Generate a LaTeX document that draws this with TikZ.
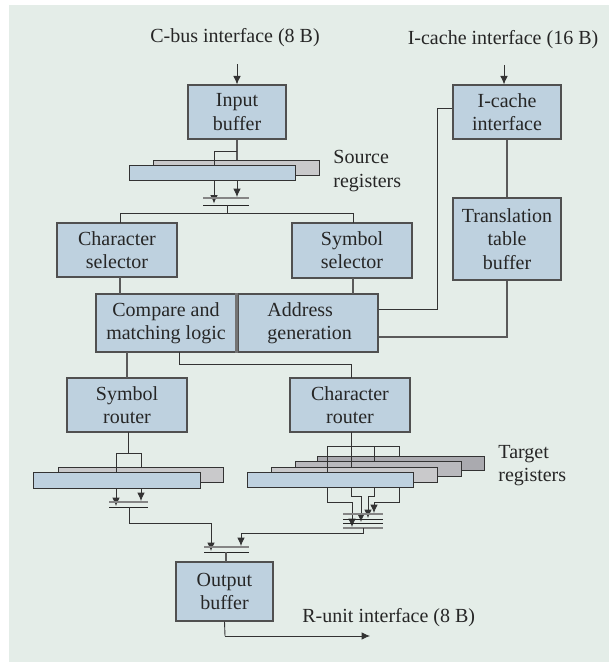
\documentclass[tikz,border=0pt]{standalone}
\usepackage{fontspec}
\setmainfont{Liberation Serif}
\newfontfamily\tms{Liberation Serif}
\usetikzlibrary{arrows.meta}
\definecolor{bgc}{HTML}{E4EDE8}
\definecolor{boxfill}{HTML}{BED1DF}
\definecolor{boxline}{HTML}{505050}
\definecolor{wirec}{HTML}{333333}
\definecolor{wireg}{HTML}{5A5A5A}
\definecolor{regA}{HTML}{C9C9CB}
\definecolor{regB}{HTML}{B9B9BD}
\definecolor{regC}{HTML}{AAAAAF}
\definecolor{barg}{HTML}{858585}
\begin{document}
\begin{tikzpicture}[x=0.5pt,y=-0.5pt,
 blk/.style={draw=boxline, fill=boxfill, line width=0.6pt, align=center, inner sep=0pt, font=\tms\fontsize{10}{11.6}\selectfont, text=black!85},
 reg/.style={draw=wirec, line width=0.5pt, inner sep=0pt},
 wire/.style={draw=wirec, line width=0.45pt},
 gwire/.style={draw=wireg, line width=0.55pt},
 arr/.style={wire, -{Latex[length=4.2pt,width=3.8pt]}},
 lbl/.style={inner sep=0pt, font=\tms\fontsize{10}{11.6}\selectfont, align=left, text=black!85},
 barK/.style={draw=black!85, line width=0.45pt},
 barG/.style={draw=barg, line width=0.65pt}]

\fill[bgc] (9,5) rectangle (609,662);
\useasboundingbox (0,0) rectangle (609,662);

% labels
\node[lbl] (cbus) at (235,38) {C-bus interface (8 B)};
\node[lbl] (icbus) at (503,40) {I-cache interface (16 B)};
\node[lbl, anchor=west] (srclbl) at (333,171) {Source\\registers};
\node[lbl, anchor=west] (tgtlbl) at (498,466) {Target\\registers};
\node[lbl, anchor=west] (runit) at (302,618) {R-unit interface (8 B)};

% boxes
\node[blk, minimum width=49pt, minimum height=27pt] (inbuf) at (237,112) {Input\\buffer};
\node[blk, minimum width=54pt, minimum height=27pt] (icache) at (507,112) {I-cache\\interface};
\node[blk, minimum width=54pt, minimum height=41pt] (transl) at (507,239) {Translation\\table\\buffer};
\node[blk, minimum width=60pt, minimum height=27pt] (charsel) at (117,250) {Character\\selector};
\node[blk, minimum width=60pt, minimum height=27.5pt] (symsel) at (352,250.5) {Symbol\\selector};
\node[blk, minimum width=70pt, minimum height=29pt] (compare) at (166,323) {Compare and\\matching logic};
\node[blk, minimum width=70pt, minimum height=29pt] (address) at (308,323) {};
\node[lbl, anchor=west] (addrtxt) at (267,323) {Address\\generation};
\draw[draw=black!55, line width=1.6pt] (compare.north east) -- (compare.south east);
\node[blk, minimum width=60pt, minimum height=27pt] (symrt) at (127,405) {Symbol\\router};
\node[blk, minimum width=60pt, minimum height=27pt] (chrrt) at (350,405) {Character\\router};
\node[blk, minimum width=48.5pt, minimum height=29.5pt] (outbuf) at (224.5,591.5) {Output\\buffer};

% source registers
\node[reg, fill=regA, minimum width=83pt, minimum height=7.5pt] (srcB) at (236,168.5) {};
\node[reg, fill=boxfill, minimum width=83pt, minimum height=7.5pt] (srcF) at (212,173.5) {};
% symbol registers
\node[reg, fill=regA, minimum width=82.5pt, minimum height=7.5pt] (symB) at (140.5,474.5) {};
\node[reg, fill=boxfill, minimum width=83.5pt, minimum height=8pt] (symF) at (116.5,480) {};
% target registers
\node[reg, fill=regC, minimum width=83.5pt, minimum height=7pt] (t4) at (400.5,463) {};
\node[reg, fill=regB, minimum width=83pt, minimum height=7.5pt] (t3) at (378,468.5) {};
\node[reg, fill=regA, minimum width=83pt, minimum height=7.5pt] (t2) at (354,474.5) {};
\node[reg, fill=boxfill, minimum width=83pt, minimum height=7.5pt] (t1) at (330,479.5) {};

% input side
\draw[arr] ([yshift=10pt]inbuf.north) -- (inbuf.north);
\draw[arr] (504,65) coordinate (icin) -- (icin |- icache.north);
\draw[gwire] (inbuf.south) -- (inbuf.south |- srcB.north);
\draw[wire] (237,151) -| (214,166);

% source mux
\draw[arr] (214,181) -- (214,203.5);
\draw[arr] (237,181) -- (237,197);
\draw[barG] (203,198) -- (249,198);
\draw[barK] (203,205) -- (249,205);
\draw[wire] (227,205) -- (227,213);
\draw[wire] (120,223) -- (120,213) -- (353,213) -- (353,223);

\draw[gwire] (120,277) -- (120,294);
\draw[gwire] (353,278) -- (353,294);

% address generation to I-cache and translation
\draw[wire] (address.east |- 0,309) -- (437,309) -- (437,108) -- (icache.west |- 0,108);
\draw[gwire] (address.east |- 0,337) -| (transl.south);
\draw[gwire] (icache.south) -- (transl.north);

% to routers
\draw[gwire] (127,352) -- (127,378);
\draw[wire] (179,352) -- (179,364) -| (351,378);

% symbol router to registers
\draw[wire] (128,432) -- (128,453);
\draw[wire] (116,472) -- (116,453) -- (141,453) -- (141,467);
\draw[arr] (116,488) -- (116,506);
\draw[arr] (141,488) -- (141,501);
\draw[barG] (109,502) -- (148,502);
\draw[barK] (109,507) -- (148,507);
\draw[wire] (129,507) -- (129,523) -- (211,523);
\draw[arr] (211,523) -- (211,551);

% character router to target registers
\draw[wire] (351,432) -- (351,467);
\draw[wire] (327,472) -- (327,446) -- (399,446) -- (399,456);
\draw[wire] (374,446) -- (374,461);
\draw[wire] (327,487) -- (327,502) -- (352,502);
\draw[arr] (352,502) -- (352,527);
\draw[wire] (351,487) -- (351,496) -- (361,496);
\draw[arr] (361,496) -- (361,522);
\draw[wire] (374,487) -- (374,496) -- (368,496);
\draw[arr] (368,496) -- (368,518);
\draw[wire] (399,487) -- (399,502) -- (374,502);
\draw[arr] (374,502) -- (374,513);
\draw[barG] (343,514) -- (383,514);
\draw[barK] (343,519) -- (383,519);
\draw[barK] (343,523) -- (383,523);
\draw[barG] (343,528) -- (383,528);
\draw[wire] (363,528) -- (363,533) -- (241,533);
\draw[arr] (241,533) -- (241,546);

% output mux
\draw[barG] (204,547) -- (249,547);
\draw[barK] (204,552) -- (249,552);
\draw[gwire] (226,552) -- (226,562);
\draw[wire] (outbuf.south) -- (225,636);
\draw[arr] (225,636) -- (370,636);
\end{tikzpicture}
\end{document}
